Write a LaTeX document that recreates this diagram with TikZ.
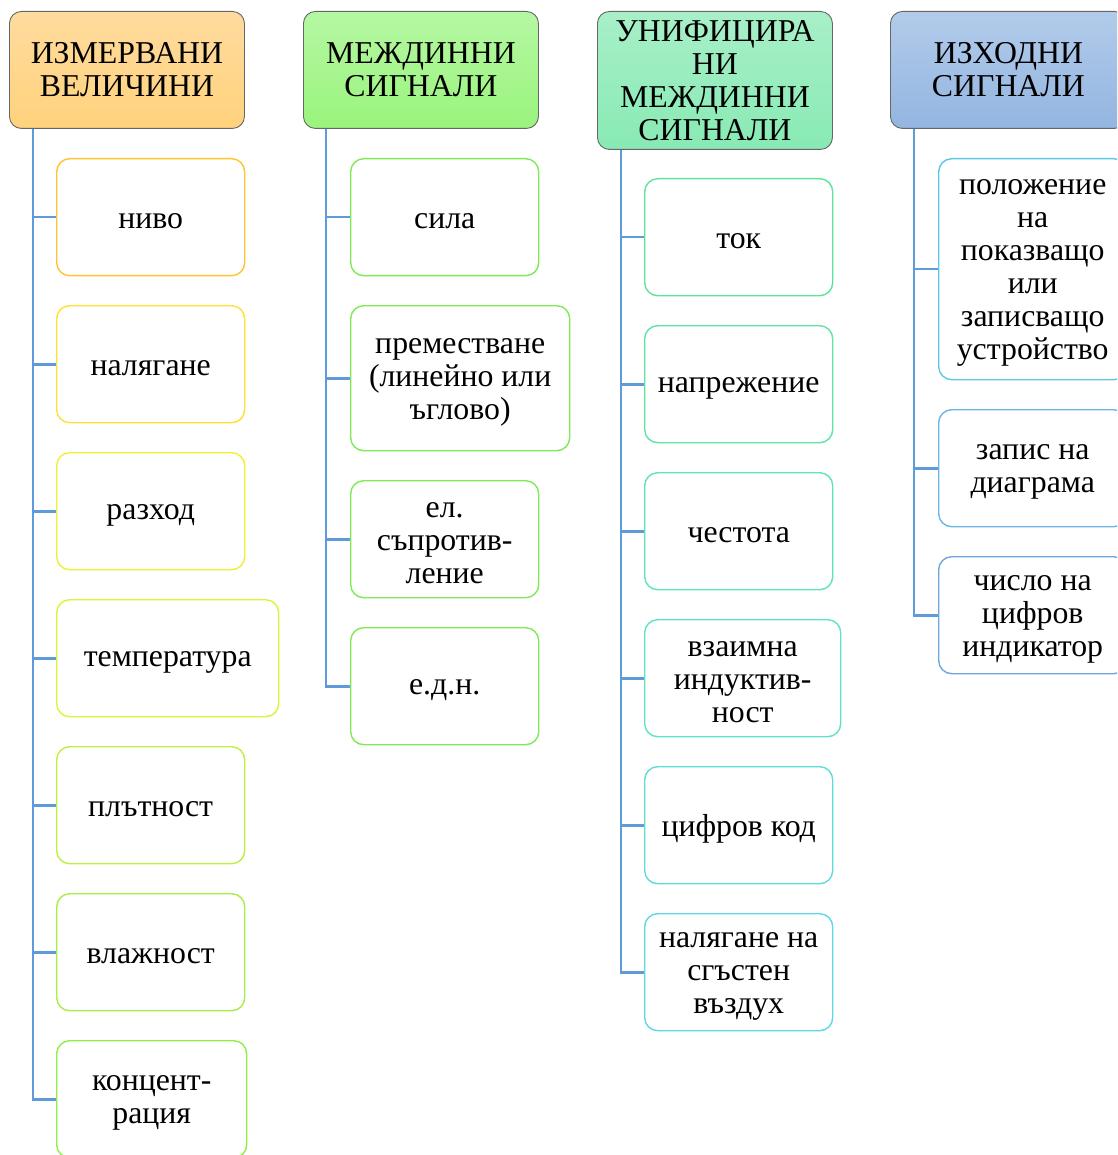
\documentclass[tikz,border=0pt]{standalone}
\usepackage{fontspec}
\setmainfont{Liberation Serif}
% \itembox[extra options]{name}{border colour}{top-left corner}{label}
\newcommand{\itembox}[5][]{%
  \node[item=#3, #1] (#2) at (#4) {};
  \node[txt, yshift=-4pt] (#2-t) at (#2.center) {#5};}
\begin{document}
\begin{tikzpicture}[x=1pt,y=-1pt,
  txt/.style={font=\fontsize{31.8}{33}\selectfont, align=center, text=black, inner sep=0pt},
  head/.style={txt, draw=gray!80!black, line width=0.9pt, rounded corners=12pt,
    anchor=north west, minimum width=235pt, minimum height=117pt},
  item/.style={draw=#1, line width=1.4pt, rounded corners=13pt, fill=white, inner sep=0pt,
    anchor=north west, minimum width=188pt, minimum height=117pt},
  conn/.style={draw=connblue, line width=2.6pt}]
\definecolor{connblue}{HTML}{5E9BD8}
\definecolor{hAtop}{HTML}{FFDB9E}\definecolor{hAbot}{HTML}{FFD27C}
\definecolor{hBtop}{HTML}{B5F7A3}\definecolor{hBbot}{HTML}{9AF47C}
\definecolor{hCtop}{HTML}{A8EFC8}\definecolor{hCbot}{HTML}{88EAB4}
\definecolor{hDtop}{HTML}{B2CBEA}\definecolor{hDbot}{HTML}{93B5E0}
\definecolor{a1}{HTML}{FFC42E}\definecolor{a2}{HTML}{FFE033}
\definecolor{a3}{HTML}{F0F033}\definecolor{a4}{HTML}{DAF535}
\definecolor{a5}{HTML}{BDF13D}\definecolor{a6}{HTML}{A8EE45}
\definecolor{a7}{HTML}{90EE45}
\definecolor{b1}{HTML}{7EEB55}
\definecolor{c1}{HTML}{5EE39A}\definecolor{c2}{HTML}{5EE5A6}
\definecolor{c3}{HTML}{5EE5B5}\definecolor{c4}{HTML}{5EE3C8}
\definecolor{c5}{HTML}{5EDDD8}\definecolor{c6}{HTML}{5ED8E2}
\definecolor{d1}{HTML}{5EC6E8}\definecolor{d2}{HTML}{6AB6E6}
\definecolor{d3}{HTML}{6EA6DE}

\clip (0,0) rectangle (1117,1155);
\useasboundingbox (0,0) rectangle (1117,1155);

% column headers
\node[head, top color=hAtop, bottom color=hAbot] (hA) at (9,11) {ИЗМЕРВАНИ\\ВЕЛИЧИНИ};
\node[head, top color=hBtop, bottom color=hBbot] (hB) at (303,11) {МЕЖДИННИ\\СИГНАЛИ};
\node[head, top color=hCtop, bottom color=hCbot, minimum height=138pt] (hC) at (597,11) {УНИФИЦИРА\\НИ\\МЕЖДИННИ\\СИГНАЛИ};
\node[head, top color=hDtop, bottom color=hDbot, minimum width=236pt] (hD) at (890,11) {ИЗХОДНИ\\СИГНАЛИ};

% measured quantities
\itembox{a1}{a1}{56,158}{ниво}
\itembox{a2}{a2}{56,305}{налягане}
\itembox{a3}{a3}{56,452}{разход}
\itembox[minimum width=222pt]{a4}{a4}{56,599}{температура}
\itembox{a5}{a5}{56,746}{плътност}
\itembox{a6}{a6}{56,893}{влажност}
\itembox[minimum width=190pt]{a7}{a7}{56,1040}{концент-\\рация}

% intermediate signals
\itembox{b1}{b1}{350,158}{сила}
\itembox[minimum width=219pt, minimum height=145pt]{b2}{b1}{350,305}{преместване\\(линейно или\\ъглово)}
\itembox{b3}{b1}{350,480}{ел.\\съпротив-\\ление}
\itembox{b4}{b1}{350,627}{е.д.н.}

% unified intermediate signals
\itembox{c1}{c1}{644,178}{ток}
\itembox{c2}{c2}{644,325}{напрежение}
\itembox{c3}{c3}{644,472}{честота}
\itembox[minimum width=196pt]{c4}{c4}{644,619}{взаимна\\индуктив-\\ност}
\itembox{c5}{c5}{644,766}{цифров код}
\itembox{c6}{c6}{644,913}{налягане на\\сгъстен\\въздух}

% output signals
\itembox[minimum height=221pt]{d1}{d1}{938,158}{положение\\на\\показващо\\или\\записващо\\устройство}
\itembox{d2}{d2}{938,409}{запис на\\диаграма}
\itembox{d3}{d3}{938,556}{число на\\цифров\\индикатор}

% tree connectors
\foreach \c in {a1,a2,a3,a4,a5,a6,a7}
  \draw[conn] ([xshift=24pt]hA.south west) |- (\c.west);
\foreach \c in {b1,b2,b3,b4}
  \draw[conn] ([xshift=23pt]hB.south west) |- (\c.west);
\foreach \c in {c1,c2,c3,c4,c5,c6}
  \draw[conn] ([xshift=24pt]hC.south west) |- (\c.west);
\foreach \c in {d1,d2,d3}
  \draw[conn] ([xshift=24pt]hD.south west) |- (\c.west);
\end{tikzpicture}
\end{document}
